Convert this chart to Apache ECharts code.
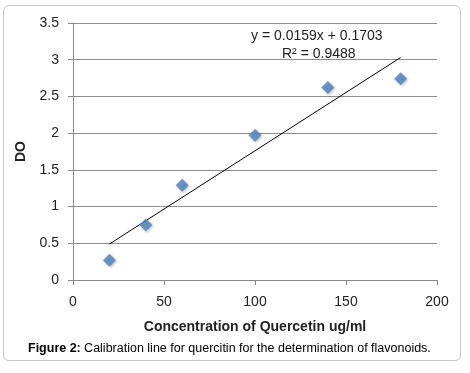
<!DOCTYPE html>
<html>
<head>
<meta charset="utf-8">
<script src="https://cdn.jsdelivr.net/npm/echarts@6/dist/echarts.min.js"></script>
<style>
  html, body { margin: 0; padding: 0; background: #fff; }
  #frame {
    position: absolute; left: 3px; top: 5px; width: 458px; height: 356px;
    border: 1.5px solid #c8c8c8; border-radius: 6px; box-sizing: border-box;
  }
  #chart { position: absolute; left: 0; top: 0; width: 470px; height: 373px; }
</style>
</head>
<body>
<div id="frame"></div>
<div id="chart"></div>
<script>
// concentration (ug/ml) and measured DO
const concentration = [20, 40, 60, 100, 140, 180];
const absorbance = [0.27, 0.75, 1.29, 1.97, 2.62, 2.74];
// trendline endpoints as drawn
const trendX = [20, 180];
const trendY = [0.49, 3.03];
const xTicks = [0, 50, 100, 150, 200];
const yTicks = [0, 0.5, 1, 1.5, 2, 2.5, 3, 3.5];

const font = '"Liberation Sans", Arial, sans-serif';

const chart = echarts.init(document.getElementById('chart'));
chart.setOption({
  animation: false,
  backgroundColor: 'transparent',
  grid: { left: 73, right: 33, top: 23, bottom: 93 },
  xAxis: {
    type: 'value',
    min: xTicks[0], max: xTicks[xTicks.length - 1], interval: 50,
    name: 'Concentration of Quercetin ug/ml',
    nameLocation: 'middle', nameGap: 40,
    nameTextStyle: { fontFamily: font, fontWeight: 'bold', fontSize: 14, color: '#222' },
    axisLine: { show: true, lineStyle: { color: '#888', width: 1 } },
    axisTick: { show: true, length: 5, lineStyle: { color: '#888' } },
    axisLabel: { fontFamily: font, fontSize: 14, color: '#222', margin: 15 },
    splitLine: { show: false }
  },
  yAxis: {
    type: 'value',
    min: yTicks[0], max: yTicks[yTicks.length - 1], interval: 0.5,
    name: 'DO',
    nameLocation: 'middle', nameGap: 42,
    nameTextStyle: { fontFamily: font, fontWeight: 'bold', fontSize: 14, color: '#222' },
    axisLine: { show: true, lineStyle: { color: '#888', width: 1 } },
    axisTick: { show: true, length: 5, lineStyle: { color: '#888' } },
    axisLabel: { fontFamily: font, fontSize: 14, color: '#222', margin: 14 },
    splitLine: { show: true, lineStyle: { color: '#8c8c8c', width: 1 } }
  },
  series: [
    {
      type: 'scatter',
      symbol: 'diamond',
      symbolSize: 13,
      data: concentration.map((x, i) => [x, absorbance[i]]),
      itemStyle: {
        color: '#4f81bd',
        shadowBlur: 3, shadowColor: 'rgba(0,0,0,0.35)', shadowOffsetX: 1, shadowOffsetY: 1
      },
      z: 3
    },
    {
      type: 'line',
      symbol: 'none',
      data: trendX.map((x, i) => [x, trendY[i]]),
      lineStyle: { color: '#000', width: 1 },
      z: 2
    }
  ],
  graphic: [
    {
      type: 'text', left: 251, top: 29,
      style: { text: 'y = 0.0159x + 0.1703', font: '14px ' + font, fill: '#222' }
    },
    {
      type: 'text', left: 282, top: 47,
      style: { text: 'R² = 0.9488', font: '14px ' + font, fill: '#222' }
    },
    {
      type: 'text', left: 28, top: 342,
      style: {
        rich: {
          b: { fontFamily: font, fontWeight: 'bold', fontSize: 12.5, color: '#111' },
          n: { fontFamily: font, fontSize: 12.5, color: '#111' }
        },
        text: '{b|Figure 2:} {n|Calibration line for quercitin for the determination of flavonoids.}'
      }
    }
  ]
});
</script>
</body>
</html>
